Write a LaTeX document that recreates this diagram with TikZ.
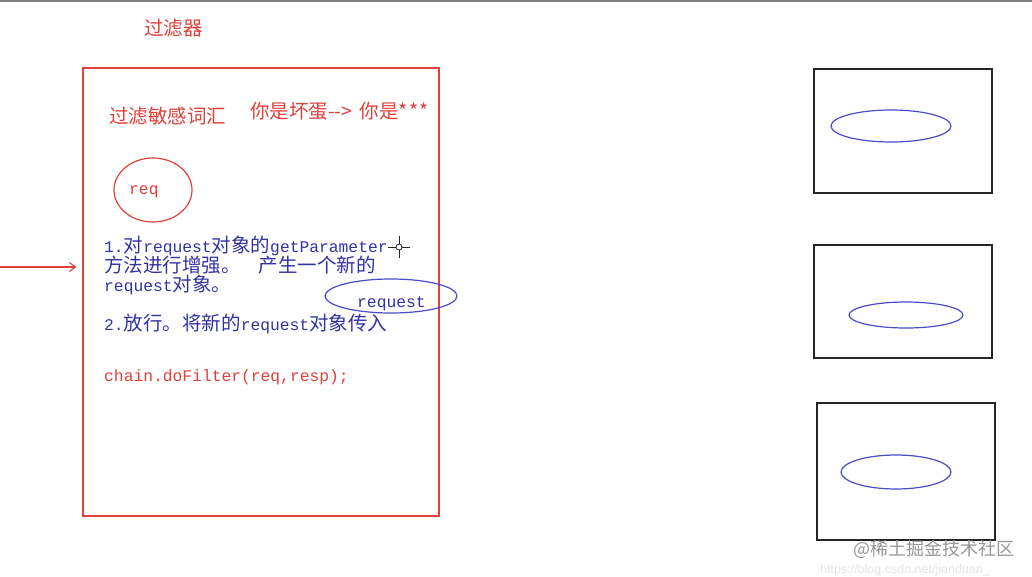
\documentclass[tikz,border=0pt]{standalone}
\usepackage{fontspec}
\setmonofont{Liberation Mono}
\newfontfamily\cjk{Noto Sans CJK SC}
\usetikzlibrary{arrows.meta,shapes.geometric}
\definecolor{penred}{RGB}{222,64,58}
\definecolor{penblue}{RGB}{50,50,165}
\definecolor{ringblue}{RGB}{75,75,200}
\definecolor{boxgray}{RGB}{38,38,38}
\definecolor{markgray}{RGB}{150,150,150}
\newcommand{\mn}[1]{{\fontsize{16.3}{18}\ttfamily #1}}
\tikzset{
  redtext/.style={anchor=base west,inner sep=0,text=penred,font=\cjk\fontsize{19.5}{21}\selectfont},
  bluetext/.style={anchor=base west,inner sep=0,text=penblue,font=\cjk\fontsize{19.5}{21}\selectfont},
  redbox/.style={draw=penred,line width=1.2pt,rectangle},
  graybox/.style={draw=boxgray,line width=1.4pt,rectangle},
  ring/.style={draw=ringblue,line width=1.2pt,ellipse,inner sep=0}
}
\begin{document}
\begin{tikzpicture}[x=1pt,y=-1pt]
  \useasboundingbox (0,0) rectangle (1032,576);
  \fill[gray] (0,0) rectangle (1032,2);

  % filter box
  \node (title) [redtext] at (144,35) {过滤器};
  \node (filter) [redbox,minimum width=356pt,minimum height=448pt] at (261,292) {};
  \node (words) [redtext] at (109,123) {过滤敏感词汇};
  \node (swap) [redtext] at (250,118) {你是坏蛋-{}->\hspace{3pt} 你是*\kern1pt*\kern1pt*};
  \node (req) [draw=penred,line width=1.2pt,ellipse,minimum width=78pt,minimum height=64pt] at (153,190) {};
  \node (reqtext) [anchor=base west,inner sep=0,text=penred] at (129,194) {\mn{req}};
  \node (step1) [bluetext] at (104,252) {\mn{1.}对\mn{request}对象的\mn{getParameter}};
  \node (step1b) [bluetext] at (104,272) {方法进行增强。\hspace{18pt}产生一个新的};
  \node (step1c) [bluetext] at (104,291) {\mn{request}对象。};
  \node (newreq) [ring,minimum width=132pt,minimum height=34pt] at (391,296) {};
  \node (newreqtext) [anchor=base west,inner sep=0,text=penblue] at (357,307) {\mn{request}};
  \node (step2) [bluetext] at (104,330) {\mn{2.}放行。将新的\mn{request}对象传入};
  \node (chain) [anchor=base west,inner sep=0,text=penred] at (104,381) {\mn{chain.doFilter(req,resp);}};

  % cursor
  \coordinate (cur) at (399,247);
  \draw[boxgray,line width=1pt] ([xshift=-11pt]cur) -- ([xshift=11pt]cur)
    ([yshift=-11pt]cur) -- ([yshift=11pt]cur);
  \draw[boxgray,fill=white,line width=0.8pt] (cur) circle (3pt);

  % incoming request
  \coordinate (src) at (0,267);
  \draw[penred,line width=1.1pt,-{Straight Barb[length=6pt,width=9pt]},shorten >=6pt] (src) -- (src -| filter.west);

  % right side
  \node (box1) [graybox,minimum width=178pt,minimum height=124pt] at (903,131) {};
  \node (ell1) [ring,minimum width=120pt,minimum height=32pt] at (891,126) {};
  \node (box2) [graybox,minimum width=178pt,minimum height=113pt] at (903,301.5) {};
  \node (ell2) [ring,minimum width=114pt,minimum height=26pt] at (906,315) {};
  \node (box3) [graybox,minimum width=178pt,minimum height=137pt] at (906,471.5) {};
  \node (ell3) [ring,minimum width=110pt,minimum height=34pt] at (896,472) {};

  % watermark
  \node (mark) [anchor=base west,inner sep=0,text=markgray,font=\cjk\fontsize{18}{20}\selectfont] at (853,555) {@稀土掘金技术社区};
  \node (url) [anchor=base west,inner sep=0,text=black!10,font=\fontspec{Liberation Sans}\fontsize{12.5}{14}\selectfont] at (820,573) {https://blog.csdn.net/jianduan\_};
\end{tikzpicture}
\end{document}
